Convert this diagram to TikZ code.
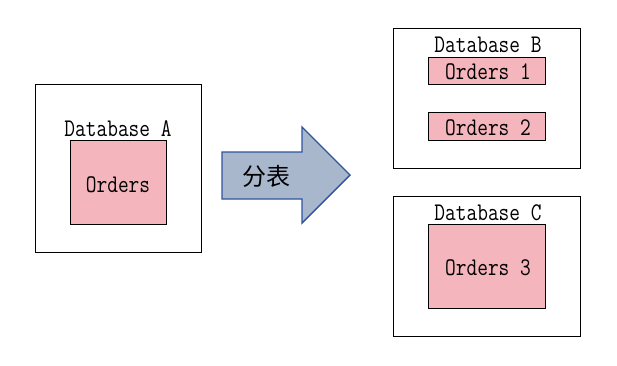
\documentclass[tikz,border=0pt]{standalone}
\usepackage{fontspec}
\usepackage{graphicx}
\newfontfamily\cjk{Noto Sans CJK SC}
\newcommand\talltext[1]{\scalebox{1}[1.22]{#1}}
\definecolor{pinkfill}{HTML}{F4B6BC}
\definecolor{arrowfill}{HTML}{A9B7CC}
\definecolor{arrowline}{HTML}{2F539E}
\begin{document}
\begin{tikzpicture}[x=1pt,y=-1pt,
  dbbox/.style={draw=black,line width=0.9pt,fill=white},
  tablebox/.style={draw=black,line width=0.9pt,fill=pinkfill},
  lbl/.style={inner sep=0pt,font=\ttfamily\fontsize{20.8}{22}\selectfont}]
\useasboundingbox (0,0) rectangle (617,365);
% Database A
\draw[dbbox] (35,84) rectangle (201,252);
\node[lbl] (dbA) at (118,129) {\talltext{Database A}};
\draw[tablebox] (70,140) rectangle (166,224);
\node[lbl] (ordA) at (118,185) {\talltext{Orders}};
% Arrow
\draw[draw=arrowline,fill=arrowfill,line width=1.4pt,line join=miter]
  (222,152) -- (302,152) -- (302,127) -- (350,175) -- (302,223) -- (302,199) -- (222,199) -- cycle;
\node[inner sep=0pt,font=\cjk\fontsize{24}{26}\selectfont] (split) at (266,176) {分表};
% Database B
\draw[dbbox] (393,28) rectangle (580,168);
\node[lbl] (dbB) at (488,45) {\talltext{Database B}};
\draw[tablebox] (428,57) rectangle (545,84);
\node[lbl] (ord1) at (488,72) {\talltext{Orders 1}};
\draw[tablebox] (428,112) rectangle (545,140);
\node[lbl] (ord2) at (488,128) {\talltext{Orders 2}};
% Database C
\draw[dbbox] (393,196) rectangle (580,336);
\node[lbl] (dbC) at (488,213) {\talltext{Database C}};
\draw[tablebox] (428,224) rectangle (545,308);
\node[lbl] (ord3) at (488,268) {\talltext{Orders 3}};
\end{tikzpicture}
\end{document}
